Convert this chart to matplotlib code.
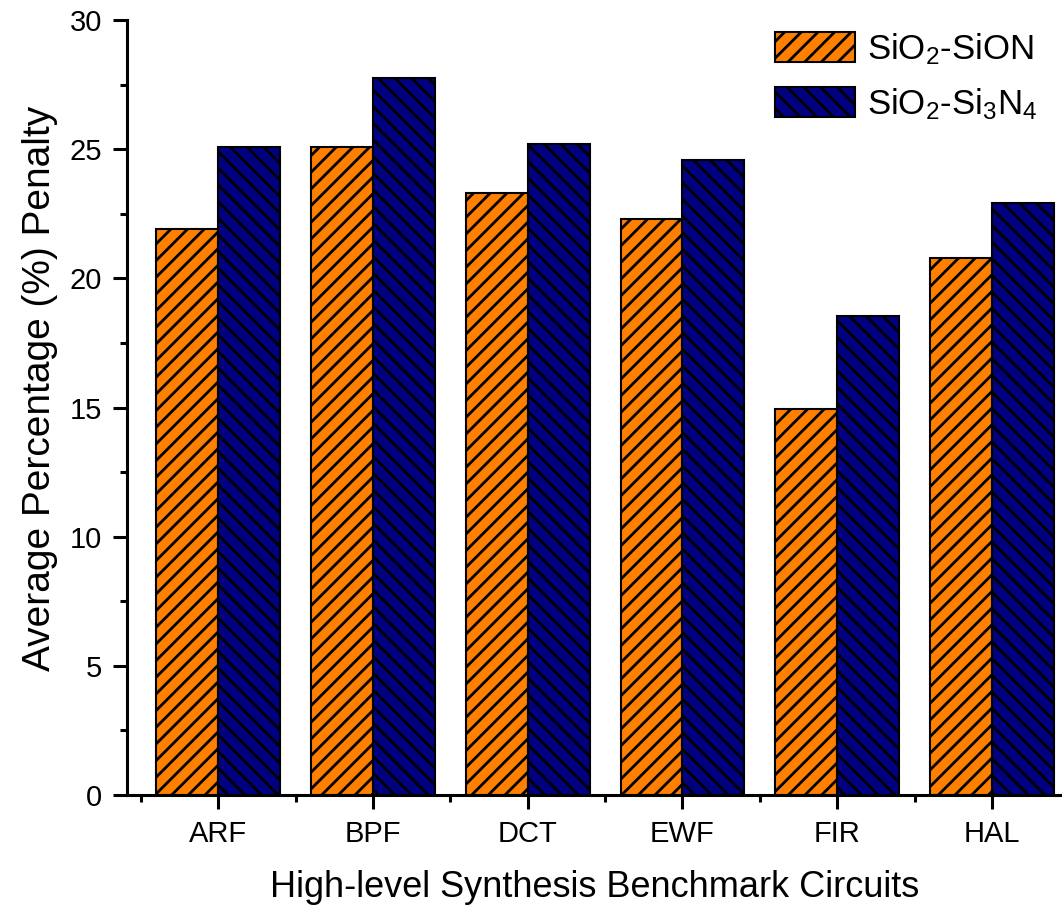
import matplotlib
matplotlib.use("Agg")
import matplotlib.pyplot as plt
import numpy as np
from matplotlib.ticker import MultipleLocator

plt.rcParams["font.family"] = ["Liberation Sans", "DejaVu Sans"]
plt.rcParams["mathtext.fontset"] = "custom"
plt.rcParams["mathtext.rm"] = "Liberation Sans"
plt.rcParams["mathtext.it"] = "Liberation Sans"
plt.rcParams["hatch.linewidth"] = 2.0

circuits = ["ARF", "BPF", "DCT", "EWF", "FIR", "HAL"]
sion = [21.9, 25.1, 23.3, 22.3, 14.95, 20.8]
si3n4 = [25.1, 27.75, 25.2, 24.6, 18.55, 22.9]
labels = [r"SiO$_2$-SiON", r"SiO$_2$-Si$_3$N$_4$"]

fig = plt.figure(figsize=(10.62, 9.09), dpi=100)
ax = fig.add_axes([0.1196, 0.1254, 0.88, 0.8526])

x = np.arange(1, len(circuits) + 1)
w = 0.4
ax.bar(x - w / 2, sion, w, color="#FF8000", edgecolor="black", linewidth=1.5,
       hatch="//", label=labels[0])
ax.bar(x + w / 2, si3n4, w, color="#000080", edgecolor="black", linewidth=1.5,
       hatch="\\\\", label=labels[1])

ax.set_xlim(0.41, 6.45)
ax.set_ylim(0, 30)
ax.set_xticks(x)
ax.set_xticklabels(circuits)
ax.set_xticks(x - 0.5, minor=True)
ax.yaxis.set_major_locator(MultipleLocator(5))
ax.yaxis.set_minor_locator(MultipleLocator(2.5))

for side in ["top", "right"]:
    ax.spines[side].set_visible(False)
for side in ["left", "bottom"]:
    ax.spines[side].set_linewidth(2.2)

ax.tick_params(axis="both", which="major", direction="out", length=10, width=2.2,
               labelsize=21, pad=8)
ax.tick_params(axis="both", which="minor", direction="out", length=5, width=2.2)

ax.set_xlabel("High-level Synthesis Benchmark Circuits", fontsize=26, labelpad=16)
ax.set_ylabel("Average Percentage (%) Penalty", fontsize=28)
ax.yaxis.set_label_coords(-0.074, 0.525)

ax.legend(loc="upper right", bbox_to_anchor=(1.0, 1.017), frameon=False,
          fontsize=25, handlelength=2.3, handleheight=0.95, handletextpad=0.35,
          labelspacing=0.55, borderaxespad=0.3)

fig.savefig("out.png", dpi=100)
